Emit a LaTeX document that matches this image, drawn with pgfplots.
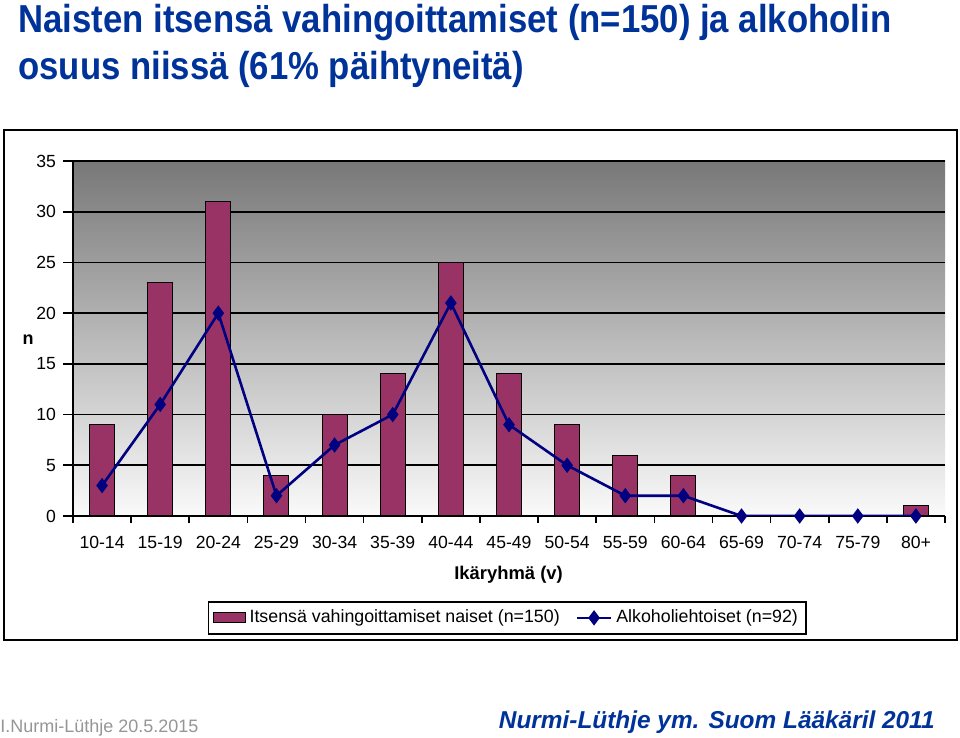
\documentclass[border=0pt]{standalone}
\usepackage{fontspec}
\setmainfont{Liberation Sans}
\usepackage{pgfplots}
\pgfplotsset{compat=1.18}
\definecolor{titleblue}{RGB}{0,51,153}
\definecolor{barc}{RGB}{153,51,102}
\definecolor{linec}{RGB}{0,0,128}
\definecolor{footgray}{RGB}{150,150,150}
\pgfplotsset{
  barleg/.style={legend image code/.code={\draw[##1] (0pt,-2.5pt) rectangle (16pt,2.5pt);}},
  lineleg/.style={legend image code/.code={\draw[mark repeat=2,mark phase=2,##1] plot coordinates {(0pt,0pt) (8.5pt,0pt) (17pt,0pt)};}},
}
\begin{document}
\begin{tikzpicture}[x=0.5pt,y=0.5pt]
\path[use as bounding box, fill=white] (0,0) rectangle (960,738);
\node[anchor=base west, inner sep=0, text=titleblue, font=\fontsize{19.5}{23}\selectfont\bfseries] at (18,705) {\scalebox{0.89}[1]{Naisten itsensä vahingoittamiset (n=150) ja alkoholin}};
\node[anchor=base west, inner sep=0, text=titleblue, font=\fontsize{19.5}{23}\selectfont\bfseries] at (18,658) {\scalebox{0.89}[1]{osuus niissä (61\% päihtyneitä)}};
\draw[line width=1pt] (4,608) rectangle (957,98);
\begin{axis}[
  at={(36.5pt,111pt)}, anchor=south west, scale only axis,
  width=436pt, height=177.5pt,
  xmin=-0.5, xmax=14.5, ymin=0, ymax=35,
  ytick={0,5,...,35},
  xtick={0,...,14},
  xticklabels={10-14,15-19,20-24,25-29,30-34,35-39,40-44,45-49,50-54,55-59,60-64,65-69,70-74,75-79,80+},
  minor xtick={-0.5,0.5,...,14.5},
  axis lines=left, axis line style={-, black, line width=0.8pt},
  tick align=outside, major tick length=5pt, minor tick length=3.5pt,
  major x tick style={draw=none},
  minor x tick style={black, line width=0.8pt},
  major y tick style={black, line width=0.8pt},
  ymajorgrids, major grid style={black, line width=0.8pt},
  axis background/.style={shade, top color=black!53, bottom color=black!2},
  tick label style={font=\fontsize{8.8}{10}\selectfont},
  xticklabel style={yshift=-1.5pt},
  /pgf/number format/assume math mode=true,
  xlabel={Ikäryhmä (v)},
  xlabel style={font=\fontsize{9.2}{10}\selectfont\bfseries, at={(axis description cs:0.4995,-0.18)}, anchor=base},
  ylabel={n},
  ylabel style={font=\fontsize{9}{10}\selectfont\bfseries, rotate=-90, at={(axis description cs:-0.0516,0.496)}, anchor=center},
  legend style={at={(axis description cs:0.498,-0.287)}, anchor=center, legend columns=2, draw=black, line width=0.8pt, font=\fontsize{8.9}{10}\selectfont, inner sep=2pt,
    /tikz/every even column/.append style={column sep=6pt}},
]
\addplot[ybar, bar width=12.5pt, fill=barc, draw=black, line width=0.5pt, barleg]
  coordinates {(0,9) (1,23) (2,31) (3,4) (4,10) (5,14) (6,25) (7,14) (8,9) (9,6) (10,4) (11,0) (12,0) (13,0) (14,1)};
\addlegendentry{Itsensä vahingoittamiset naiset (n=150)}
\addplot[linec, line width=1.3pt, mark=diamond*, mark size=2.8pt, mark options={solid}, lineleg]
  coordinates {(0,3) (1,11) (2,20) (3,2) (4,7) (5,10) (6,21) (7,9) (8,5) (9,2) (10,2) (11,0) (12,0) (13,0) (14,0)};
\addlegendentry{Alkoholiehtoiset (n=92)}
\end{axis}
\node[anchor=base west, inner sep=0, text=footgray, font=\fontsize{9}{10}\selectfont] at (0,5) {I.Nurmi-Lüthje 20.5.2015};
\node[anchor=base east, inner sep=0, text=titleblue, font=\fontsize{12.2}{14}\selectfont\bfseries\itshape] at (935,9) {Nurmi-Lüthje ym. Suom Lääkäril 2011};
\end{tikzpicture}
\end{document}
